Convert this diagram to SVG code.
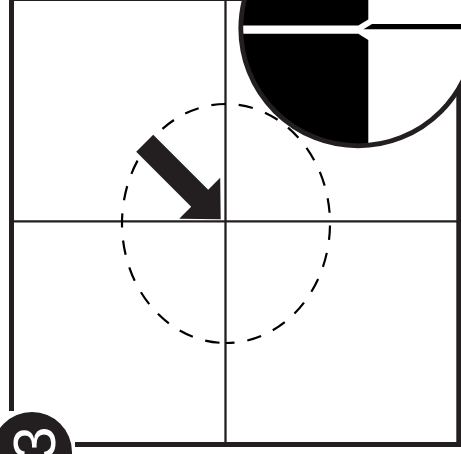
<svg xmlns="http://www.w3.org/2000/svg" width="461" height="454" viewBox="0 0 461 454">
  <defs>
    <style>
      .ln { stroke: #231f20; fill: none; }
      .dash { stroke: #000; fill: none; stroke-width: 2.2; stroke-dasharray: 14.5 13; stroke-dashoffset: 21; }
      .blk { fill: #000; }
    </style>
    <clipPath id="magClip">
      <circle cx="358" cy="28.6" r="117.2"/>
    </clipPath>
  </defs>
  <rect width="461" height="454" fill="#fff"/>

  <g id="frame">
    <path class="ln" d="M11.5,411 V-1.5 H458.8 V444.5 H75" stroke-width="5"/>
  </g>

  <g id="connectors">
    <line class="ln" x1="225.5" y1="0" x2="225.5" y2="444" stroke-width="2.3"/>
    <line class="ln" x1="11.5" y1="221.3" x2="458.5" y2="221.3" stroke-width="2.3"/>
    <path class="dash" d="M226,343 A104,119.5 0 0 1 122,223.5 A104,119.5 0 0 1 226,104 A104,119.5 0 0 1 330,223.5 A104,119.5 0 0 1 226,343 Z"/>
  </g>

  <g id="arrow">
    <polygon fill="#231f20" points="153.2,134.8 208.2,189.8 220.2,177.8 220.7,219.3 179.2,218.8 191.2,206.8 136.2,151.8"/>
  </g>

  <g id="magnifier">
    <circle cx="358" cy="28.6" r="117.2" fill="#fff"/>
    <g clip-path="url(#magClip)">
      <polygon class="blk" points="200,-100 368.3,-100 368.3,19.5 358.3,25.5 200,25.5"/>
      <polygon class="blk" points="200,33.8 358.3,33.8 368.3,40 368.3,200 200,200"/>
      <polygon class="blk" points="363.5,29.3 372,24 470,24 470,29.3"/>
    </g>
    <circle class="ln" cx="358" cy="28.6" r="117.2" stroke-width="4.8"/>
  </g>

  <g id="step-badge">
    <circle cx="32" cy="452" r="40" fill="#231f20"/>
    <text transform="translate(55,443) rotate(-90)" text-anchor="middle" font-family="'Liberation Sans', Arial, sans-serif" font-size="60" fill="#fff">3</text>
  </g>
</svg>
